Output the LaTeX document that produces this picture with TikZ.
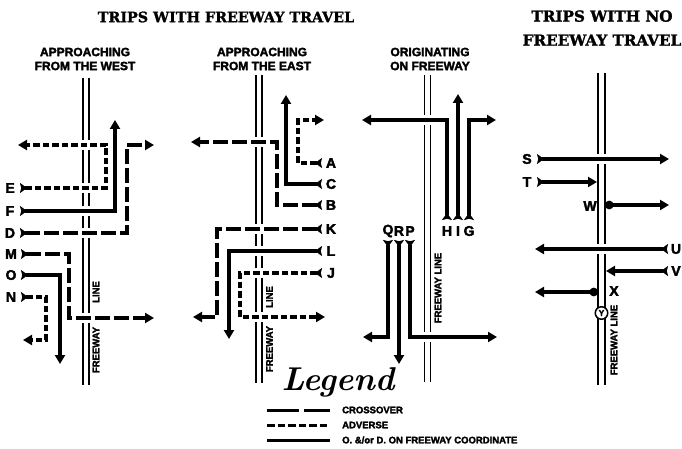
\documentclass[tikz,border=0pt]{standalone}
\usepackage{fontspec}
\newfontfamily\titlefont{DejaVu Serif}[BoldFeatures={FakeBold=1.5}]
\newfontfamily\labfont{Liberation Sans}[BoldFeatures={FakeBold=2.5}]
\usetikzlibrary{arrows.meta}
\newcommand\fwgap[2]{\fill[white] (#1-7,#2-5) rectangle (#1+7,#2+5);}
\begin{document}
\begin{tikzpicture}[x=1pt,y=-1pt,
  fw/.style={line width=1.9pt},
  trip/.style={line width=3.2pt,{Stealth[reversed,length=7pt,width=10pt,inset=1.2pt]}-{Triangle[length=9pt,width=10pt]}},
  solidtrip/.style={trip},
  cross/.style={trip,dash pattern=on 15pt off 4pt},
  adv/.style={trip,dash pattern=on 6.5pt off 3pt},
  blobtrip/.style={line width=3.2pt,{Circle[length=8.5pt]}-{Triangle[length=9pt,width=10pt]}},
  plaintrip/.style={line width=3.4pt,{Stealth[reversed,length=7pt,width=10pt,inset=1.2pt]}-{Triangle[length=9pt,width=10pt]}},
  lab/.style={font=\labfont\bfseries\fontsize{14}{14}\selectfont,inner sep=0pt},
  sub/.style={font=\labfont\bfseries\fontsize{12}{14}\selectfont,inner sep=0pt,align=center},
  title/.style={font=\titlefont\bfseries\fontsize{14.3}{24}\selectfont,inner sep=0pt,align=center},
  fwlab/.style={font=\labfont\bfseries\fontsize{9.5}{10}\selectfont,inner sep=0pt,rotate=90},
  legtext/.style={font=\labfont\bfseries\fontsize{9.5}{10}\selectfont,inner sep=0pt,anchor=west},
]
\useasboundingbox (0,0) rectangle (682,449);

% titles
\node[title] (t1) at (226,17) {TRIPS WITH FREEWAY TRAVEL};
\node[title,font=\titlefont\bfseries\fontsize{15.2}{24}\selectfont] (t2) at (602,28) {TRIPS WITH NO\\FREEWAY TRAVEL};
\node[sub] (s1) at (85,59) {APPROACHING\\FROM THE WEST};
\node[sub] (s2) at (262,59) {APPROACHING\\FROM THE EAST};
\node[sub] (s3) at (430,59) {ORIGINATING\\ON FREEWAY};

% freeway lines
\draw[fw] (83,78) -- (83,385) (89,78) -- (89,385);
\draw[fw] (256,75) -- (256,383) (262,75) -- (262,383);
\draw[fw] (424.5,75) -- (424.5,382) (430.5,75) -- (430.5,382);
\draw[fw] (598,73) -- (598,385) (605,73) -- (605,385);

% gaps in freeway lines at crossings
\fwgap{86}{145}\fwgap{86}{188}\fwgap{86}{211}\fwgap{86}{233}\fwgap{86}{318}
\fwgap{259}{142}\fwgap{259}{229}\fwgap{259}{251}\fwgap{259}{273}\fwgap{259}{317}
\fwgap{427.5}{120}\fwgap{427.5}{337}
\fwgap{601.5}{159}\fwgap{601.5}{249}

% freeway line labels
\node[fwlab] (p1a) at (96,292) {LINE};
\node[fwlab] (p1b) at (96,350) {FREEWAY};
\node[fwlab] (p2a) at (269.5,297) {LINE};
\node[fwlab] (p2b) at (269.5,349) {FREEWAY};
\node[fwlab] (p3) at (438,288) {FREEWAY LINE};
\node[fwlab] (p4) at (614,340) {FREEWAY LINE};

% ---------- panel 1 ----------
\node[lab] (E) at (10,188) {E};
\node[lab] (F) at (10,211) {F};
\node[lab] (D) at (10,233) {D};
\node[lab] (M) at (11,254) {M};
\node[lab] (O) at (11,275) {O};
\node[lab] (N) at (11,297) {N};
\coordinate (e0) at (20,188); \coordinate (e1) at (106,188); \coordinate (e2) at (106,145); \coordinate (e3) at (18,145);
\coordinate (f0) at (20,211); \coordinate (f1) at (115,211); \coordinate (f2) at (115,120);
\coordinate (d0) at (20,233); \coordinate (d1) at (127,233); \coordinate (d2) at (127,145); \coordinate (d3) at (154,145);
\coordinate (m0) at (21,254); \coordinate (m1) at (69,254); \coordinate (m2) at (69,318); \coordinate (m3) at (154,318);
\coordinate (o0) at (21,275); \coordinate (o1) at (60,275); \coordinate (o2) at (60,364);
\coordinate (n0) at (21,297); \coordinate (n1) at (46,297); \coordinate (n2) at (46,340); \coordinate (n3) at (23,340);
\draw[adv] (e0) -- (e1) -- (e2) -- (e3);
\draw[solidtrip] (f0) -- (f1) -- (f2);
\draw[cross] (d0) -- (d1) -- (d2) -- (d3);
\draw[cross] (m0) -- (m1) -- (m2) -- (m3);
\draw[solidtrip] (o0) -- (o1) -- (o2);
\draw[adv] (n0) -- (n1) -- (n2) -- (n3);

% ---------- panel 2 ----------
\node[lab] (A) at (331,163) {A};
\node[lab] (C) at (331,184) {C};
\node[lab] (B) at (331,205) {B};
\node[lab] (K) at (331,229) {K};
\node[lab] (L) at (331,251) {L};
\node[lab] (J) at (331,273) {J};
\coordinate (a0) at (322,163); \coordinate (a1) at (298,163); \coordinate (a2) at (298,120); \coordinate (a3) at (324,120);
\coordinate (c0) at (322,184); \coordinate (c1) at (286,184); \coordinate (c2) at (286,95);
\coordinate (b0) at (322,205); \coordinate (b1) at (277,205); \coordinate (b2) at (277,142); \coordinate (b3) at (191,142);
\coordinate (k0) at (322,229); \coordinate (k1) at (217,229); \coordinate (k2) at (217,317); \coordinate (k3) at (193,317);
\coordinate (l0) at (322,251); \coordinate (l1) at (229,251); \coordinate (l2) at (229,339);
\coordinate (j0) at (322,273); \coordinate (j1) at (240,273); \coordinate (j2) at (240,317); \coordinate (j3) at (325,317);
\draw[adv] (a0) -- (a1) -- (a2) -- (a3);
\draw[solidtrip] (c0) -- (c1) -- (c2);
\draw[cross] (b0) -- (b1) -- (b2) -- (b3);
\draw[cross] (k0) -- (k1) -- (k2) -- (k3);
\draw[solidtrip] (l0) -- (l1) -- (l2);
\draw[adv] (j0) -- (j1) -- (j2) -- (j3);

% ---------- panel 3 ----------
\node[lab] (H) at (447,231) {H};
\node[lab] (I) at (458,231) {I};
\node[lab] (G) at (469,231) {G};
\node[lab] (Q) at (388,231) {Q};
\node[lab] (R) at (399,231) {R};
\node[lab] (P) at (410,231) {P};
\coordinate (h0) at (447,220); \coordinate (h1) at (447,120); \coordinate (h2) at (362,120);
\coordinate (i0) at (458,220); \coordinate (i1) at (458,94);
\coordinate (g0) at (469,220); \coordinate (g1) at (469,120); \coordinate (g2) at (496,120);
\coordinate (q0) at (388,240); \coordinate (q1) at (388,337); \coordinate (q2) at (363,337);
\coordinate (r0) at (399,240); \coordinate (r1) at (399,364);
\coordinate (pp0) at (410,240); \coordinate (pp1) at (410,337); \coordinate (pp2) at (497,337);
\draw[solidtrip] (h0) -- (h1) -- (h2);
\draw[solidtrip] (i0) -- (i1);
\draw[solidtrip] (g0) -- (g1) -- (g2);
\draw[solidtrip] (q0) -- (q1) -- (q2);
\draw[solidtrip] (r0) -- (r1);
\draw[solidtrip] (pp0) -- (pp1) -- (pp2);

% ---------- panel 4 ----------
\node[lab] (S) at (527,159) {S};
\node[lab] (T) at (527,182) {T};
\node[lab] (W) at (590,206) {W};
\node[lab] (U) at (676,249) {U};
\node[lab] (V) at (676,271) {V};
\node[lab] (X) at (614,291) {X};
\node[draw,circle,line width=1.5pt,fill=white,minimum size=12.5pt,inner sep=0pt,
      font=\labfont\bfseries\fontsize{8.5}{8.5}\selectfont] (Y) at (601.5,313) {Y};
\coordinate (s0) at (537,159); \coordinate (s1) at (669,159);
\coordinate (tt0) at (537,182); \coordinate (tt1) at (597,182);
\coordinate (w0) at (605,205); \coordinate (w1) at (669,205);
\coordinate (u0) at (668,249); \coordinate (u1) at (535,249);
\coordinate (v0) at (668,271); \coordinate (v1) at (606,271);
\coordinate (x0) at (598,292); \coordinate (x1) at (535,292);
\draw[plaintrip] (s0) -- (s1);
\draw[plaintrip] (tt0) -- (tt1);
\draw[blobtrip] (w0) -- (w1);
\draw[plaintrip] (u0) -- (u1);
\draw[plaintrip] (v0) -- (v1);
\draw[blobtrip] (x0) -- (x1);

% ---------- legend ----------
\node[inner sep=0pt,font=\bfseries\itshape\fontsize{33}{33}\selectfont] (leg) at (338,382) {Legend};
\coordinate (lc0) at (267,410); \coordinate (lc1) at (330,410);
\coordinate (la0) at (267,425); \coordinate (la1) at (330,425);
\coordinate (ls0) at (267,440); \coordinate (ls1) at (330,440);
\draw[line width=3pt,dash pattern=on 32pt off 5pt] (lc0) -- (lc1);
\draw[line width=3pt,dash pattern=on 7.5pt off 3pt] (la0) -- (la1);
\draw[line width=3pt] (ls0) -- (ls1);
\node[legtext] (lt1) at (342,410) {CROSSOVER};
\node[legtext] (lt2) at (342,425) {ADVERSE};
\node[legtext] (lt3) at (342,440) {O. \&/or D. ON FREEWAY COORDINATE};
\end{tikzpicture}
\end{document}
